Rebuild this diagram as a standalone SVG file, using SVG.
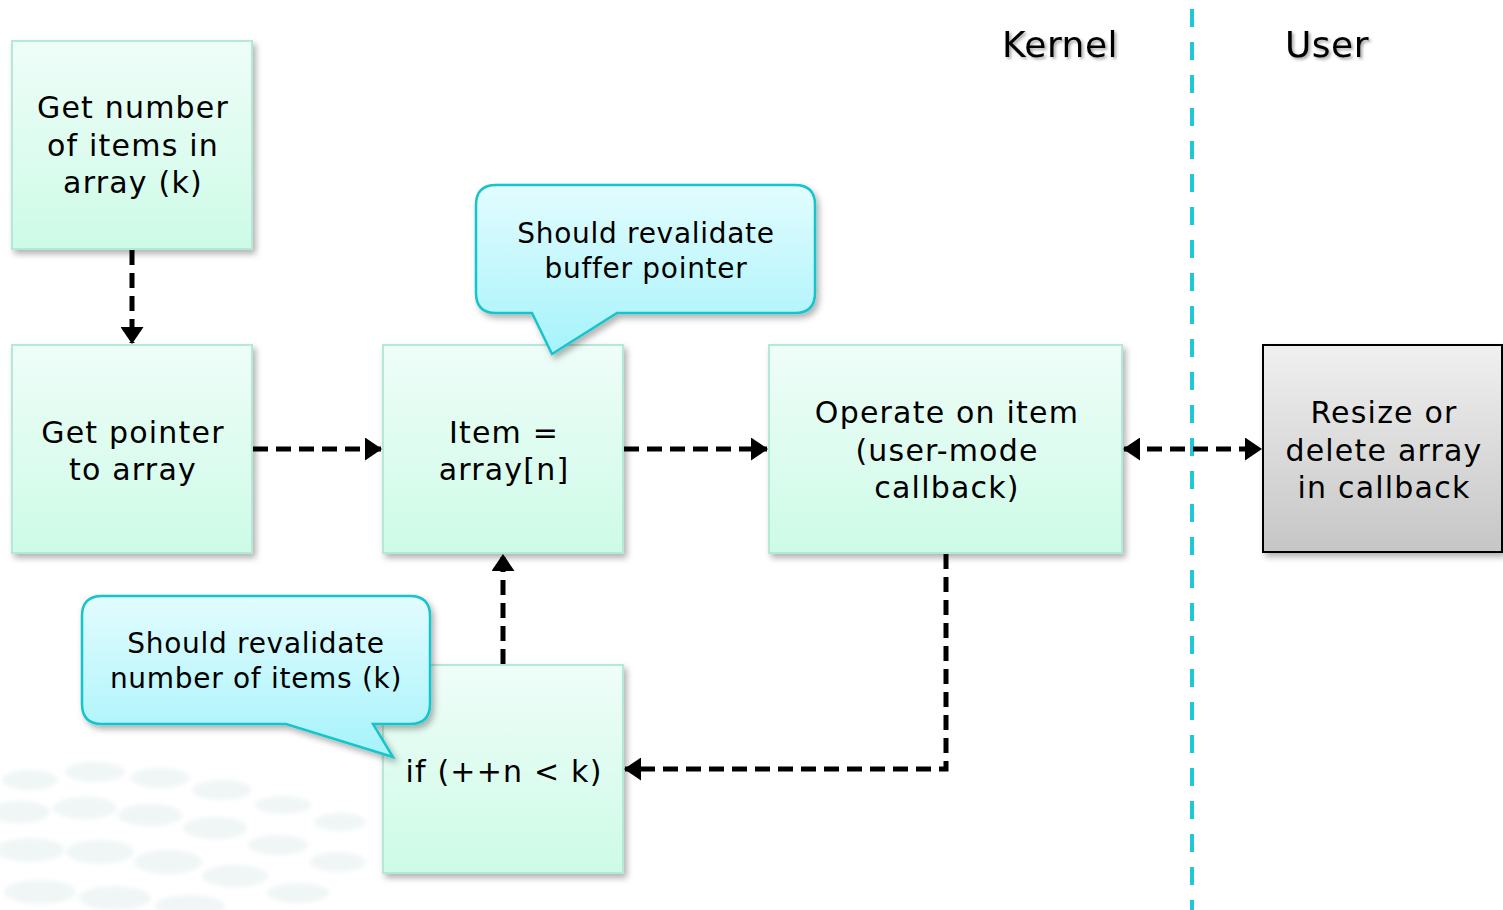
<svg xmlns="http://www.w3.org/2000/svg" width="1503" height="910" viewBox="0 0 1503 910">
<defs>
<style>
.t{font-family:"DejaVu Sans","Verdana",sans-serif;font-size:30px;letter-spacing:1.2px;fill:#000;text-anchor:middle}
.c{font-family:"DejaVu Sans","Verdana",sans-serif;font-size:28px;letter-spacing:0.7px;fill:#000;text-anchor:middle}
.h{font-family:"DejaVu Sans","Verdana",sans-serif;font-size:36px;letter-spacing:0.5px;fill:#000;text-anchor:middle}
.box{fill:url(#gBox);stroke:#b4e8d8;stroke-width:2;filter:url(#sh)}
.gbox{fill:url(#gGray);stroke:#000;stroke-width:2;filter:url(#sh)}
.call{fill:url(#gCall);stroke:#16c4cc;stroke-width:2.5;filter:url(#sh)}
.con{fill:none;stroke:#000;stroke-width:5;stroke-dasharray:15 8}
</style>
<linearGradient id="gBox" x1="0" y1="0" x2="0" y2="1"><stop offset="0" stop-color="#effdf8"/><stop offset="1" stop-color="#cdfbe7"/></linearGradient>
<linearGradient id="gGray" x1="0" y1="0" x2="0" y2="1"><stop offset="0" stop-color="#f0f0f0"/><stop offset="1" stop-color="#c6c6c6"/></linearGradient>
<linearGradient id="gCall" x1="0" y1="0" x2="0" y2="1"><stop offset="0" stop-color="#e2fcfe"/><stop offset="1" stop-color="#a6f3fb"/></linearGradient>
<filter id="sh" x="-10%" y="-10%" width="130%" height="130%"><feDropShadow dx="3" dy="4" stdDeviation="3" flood-color="#000" flood-opacity="0.3"/></filter>
<filter id="ts" x="-10%" y="-10%" width="130%" height="140%"><feDropShadow dx="2" dy="2" stdDeviation="1.5" flood-color="#000" flood-opacity="0.35"/></filter>
<filter id="bl"><feGaussianBlur stdDeviation="2"/></filter>
<marker id="ah" viewBox="0 0 17 23" refX="16" refY="11.5" markerWidth="17" markerHeight="23" markerUnits="userSpaceOnUse" orient="auto-start-reverse"><path d="M0,0 L17,11.5 L0,23 Z" fill="#000"/></marker>
</defs>
<rect width="1503" height="910" fill="#fff"/>
<g id="watermark" fill="#e4eef0" opacity="0.55" filter="url(#bl)">
<ellipse cx="30" cy="780" rx="28" ry="10"/><ellipse cx="95" cy="772" rx="30" ry="10"/><ellipse cx="160" cy="778" rx="30" ry="10"/><ellipse cx="222" cy="790" rx="30" ry="10"/><ellipse cx="283" cy="805" rx="28" ry="9"/><ellipse cx="340" cy="822" rx="26" ry="9"/>
<ellipse cx="20" cy="812" rx="30" ry="11"/><ellipse cx="85" cy="808" rx="32" ry="11"/><ellipse cx="150" cy="815" rx="32" ry="11"/><ellipse cx="215" cy="828" rx="32" ry="11"/><ellipse cx="278" cy="845" rx="30" ry="10"/><ellipse cx="338" cy="862" rx="28" ry="10"/>
<ellipse cx="30" cy="850" rx="34" ry="12"/><ellipse cx="100" cy="852" rx="34" ry="12"/><ellipse cx="168" cy="862" rx="34" ry="12"/><ellipse cx="235" cy="876" rx="33" ry="11"/><ellipse cx="298" cy="893" rx="31" ry="10"/>
<ellipse cx="40" cy="892" rx="36" ry="12"/><ellipse cx="115" cy="898" rx="36" ry="12"/><ellipse cx="190" cy="906" rx="35" ry="11"/>
</g>
<g id="divider"><line x1="1192" y1="9" x2="1192" y2="910" stroke="#1ec8d6" stroke-width="4" stroke-dasharray="18 15"/></g>
<g id="labels">
<text class="h" x="1060" y="57" filter="url(#ts)">Kernel</text>
<text class="h" x="1327" y="57" filter="url(#ts)">User</text>
</g>
<g id="connectors">
<path class="con" d="M132,250 V343" marker-end="url(#ah)"/>
<path class="con" d="M253,449 H381" marker-end="url(#ah)"/>
<path class="con" d="M624,449 H767" marker-end="url(#ah)"/>
<path class="con" d="M1124,449 H1261" marker-start="url(#ah)" marker-end="url(#ah)"/>
<path class="con" d="M946,554 V769 H625" marker-end="url(#ah)"/>
<path class="con" d="M503,664 V555" marker-end="url(#ah)"/>
</g>
<g id="n1"><rect class="box" x="12" y="41" width="240" height="208"/>
<text class="t" x="133" y="118">Get number</text><text class="t" x="133" y="156">of items in</text><text class="t" x="133" y="193">array (k)</text></g>
<g id="n2"><rect class="box" x="12" y="345" width="240" height="208"/>
<text class="t" x="133" y="443">Get pointer</text><text class="t" x="133" y="480">to array</text></g>
<g id="n3"><rect class="box" x="383" y="345" width="240" height="208"/>
<text class="t" x="504" y="443">Item =</text><text class="t" x="504" y="480">array[n]</text></g>
<g id="n4"><rect class="box" x="769" y="345" width="353" height="208"/>
<text class="t" x="947" y="423">Operate on item</text><text class="t" x="947" y="461">(user-mode</text><text class="t" x="947" y="498">callback)</text></g>
<g id="n5"><rect class="gbox" x="1263" y="345" width="239" height="207"/>
<text class="t" x="1384" y="423">Resize or</text><text class="t" x="1384" y="461">delete array</text><text class="t" x="1384" y="498">in callback</text></g>
<g id="n6"><rect class="box" x="383" y="665" width="240" height="208"/>
<text class="t" x="504" y="782">if (++n &lt; k)</text></g>
<g id="callout1"><path class="call" d="M496,185 H795 Q815,185 815,205 V293 Q815,313 795,313 H617 L552,354 L532,313 H496 Q476,313 476,293 V205 Q476,185 496,185 Z"/>
<text class="c" x="646" y="243">Should revalidate</text><text class="c" x="646" y="278">buffer pointer</text></g>
<g id="callout2"><path class="call" d="M102,596 H410 Q430,596 430,616 V704 Q430,724 410,724 H373 L393,757 L286,724 H102 Q82,724 82,704 V616 Q82,596 102,596 Z"/>
<text class="c" x="256" y="653">Should revalidate</text><text class="c" x="256" y="688">number of items (k)</text></g>
</svg>
